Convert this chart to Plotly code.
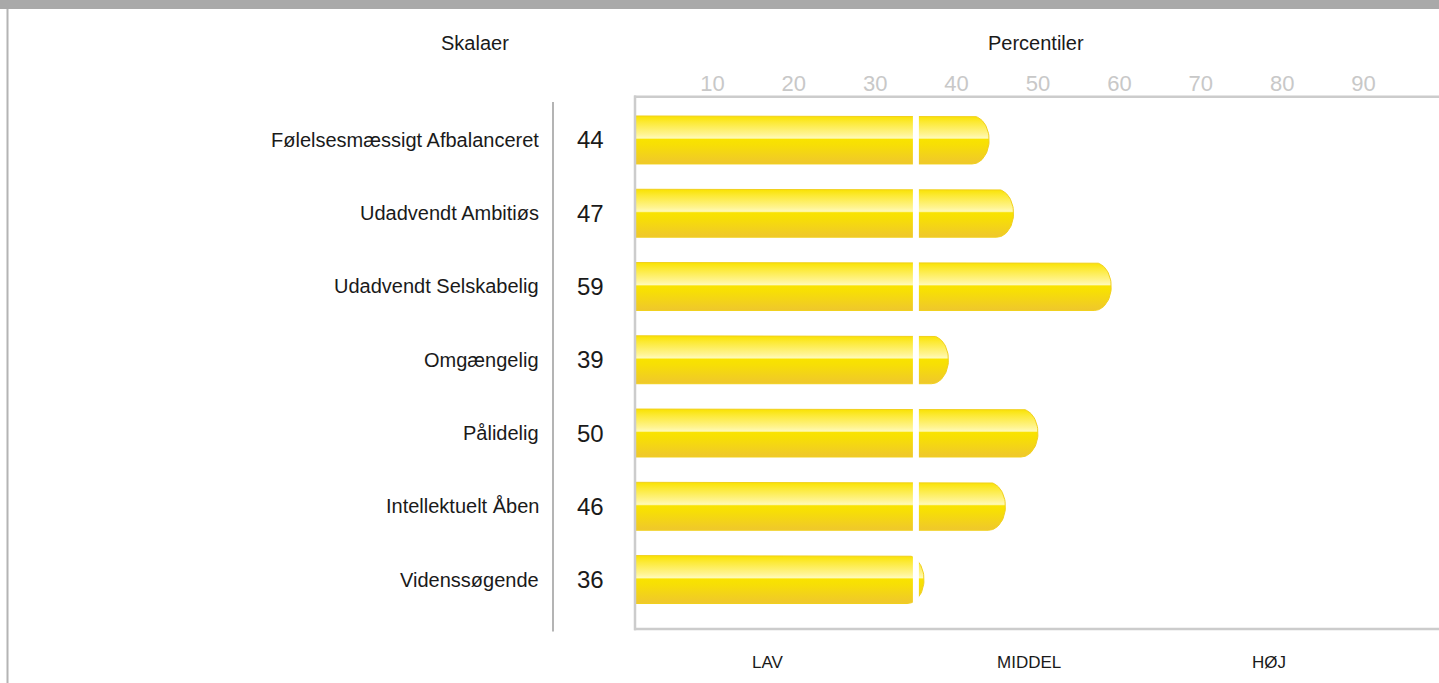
import numpy as np
import plotly.graph_objects as go

# ---- data ----
categories = ["Følelsesmæssigt Afbalanceret", "Udadvendt Ambitiøs", "Udadvendt Selskabelig",
              "Omgængelig", "Pålidelig", "Intellektuelt Åben", "Videnssøgende"]
values = [44, 47, 59, 39, 50, 46, 36]
tick_values = [10, 20, 30, 40, 50, 60, 70, 80, 90]
tick_labels = ["10", "20", "30", "40", "50", "60", "70", "80", "90"]
zone_labels = ["LAV", "MIDDEL", "HØJ"]
split_value = 35

# ---- layout geometry (pixels) ----
W, H = 1439, 683
L, R, T, B = 634, 1439, 96, 629.5
FRAME_TOP = 96.7
XPX = 8.14      # pixels per percentile unit
YPX = 73.33     # pixels per row
x0 = 0.37
x1 = x0 + (R - L) / XPX
y_top = -(140 - T) / YPX
y_bot = (len(categories) - 1) + (B - 580) / YPX

def px(xp):
    return (xp - L) / (R - L)

def py(yp):
    return (B - yp) / (B - T)

FONT = "Liberation Sans, Arial, sans-serif"
half_h = 24 / YPX
rx = 17 / XPX

colorscale = [
    [0.0, "#f9e200"], [0.12, "#fce930"], [0.38, "#fff491"], [0.46, "#fffab6"],
    [0.49, "#f9e300"], [0.6, "#f7df05"], [1.0, "#efc72d"],
]

fig = go.Figure()
for i, v in enumerate(values):
    t = np.linspace(-np.pi / 2, np.pi / 2, 40)
    xs = [0, v - rx] + list(v - rx + rx * np.cos(t)) + [0]
    ys = [i - half_h, i - half_h] + list(i + half_h * np.sin(t)) + [i + half_h]
    fig.add_trace(go.Scatter(
        x=xs, y=ys, mode="lines", fill="toself",
        line=dict(color="#f1d01c", width=1),
        fillgradient=dict(type="vertical", colorscale=colorscale,
                          start=i - half_h, stop=i + half_h),
        hoverinfo="skip", showlegend=False,
    ))

# white separator at the split value
gx, gy = [], []
for i, v in enumerate(values):
    if v > split_value:
        gx += [split_value, split_value, None]
        gy += [i - half_h - 0.02, i + half_h + 0.02, None]
fig.add_trace(go.Scatter(x=gx, y=gy, mode="lines", line=dict(color="white", width=6),
                         hoverinfo="skip", showlegend=False))

ann = []
for i, (c, v) in enumerate(zip(categories, values)):
    ann.append(dict(text=c, x=px(541), y=i, xref="paper", yref="y", xanchor="right",
                    yanchor="middle", showarrow=False, font=dict(size=20, color="#1a1a1a")))
    ann.append(dict(text=str(v), x=px(590), y=i, xref="paper", yref="y", xanchor="center",
                    yanchor="middle", showarrow=False, font=dict(size=24, color="#1a1a1a")))
ann.append(dict(text="Skalaer", x=px(475), y=py(43), xref="paper", yref="paper",
                xanchor="center", yanchor="middle",
                showarrow=False, font=dict(size=20, color="#1a1a1a")))
ann.append(dict(text="Percentiler", x=px(1036), y=py(43), xref="paper", yref="paper",
                xanchor="center", yanchor="middle",
                showarrow=False, font=dict(size=20, color="#1a1a1a")))
for lab, xp in zip(zone_labels, [768, 1029, 1269]):
    ann.append(dict(text=lab, x=px(xp), y=py(663.5), xref="paper", yref="paper",
                    xanchor="center", yanchor="middle",
                    showarrow=False, font=dict(size=17, color="#1a1a1a")))

FRAME = dict(color="#cccccc", width=2.5)
shapes = [
    dict(type="rect", xref="paper", yref="paper", x0=px(-5), x1=px(W + 5), y0=py(9), y1=py(-5),
         fillcolor="#a9a9a9", line=dict(width=0), layer="above"),
    dict(type="line", xref="paper", yref="paper", x0=px(7.5), x1=px(7.5), y0=py(9), y1=py(H + 5),
         line=dict(color="#b4b4b4", width=2)),
    dict(type="line", xref="paper", yref="paper", x0=px(553), x1=px(553), y0=py(102), y1=py(632),
         line=dict(color="#b4b4b4", width=2)),
    # chart frame: top, left, bottom
    dict(type="line", xref="paper", yref="paper", x0=px(634), x1=px(W + 5),
         y0=py(FRAME_TOP), y1=py(FRAME_TOP), line=FRAME, layer="above"),
    dict(type="line", xref="paper", yref="paper", x0=px(635), x1=px(635),
         y0=py(FRAME_TOP - 1.2), y1=py(630.8), line=FRAME, layer="above"),
    dict(type="line", xref="paper", yref="paper", x0=px(634), x1=px(W + 5),
         y0=py(629.5), y1=py(629.5), line=FRAME, layer="above"),
]

fig.update_layout(
    width=W, height=H,
    margin=dict(l=L, r=W - R, t=T, b=H - B, pad=0),
    paper_bgcolor="white", plot_bgcolor="white",
    font=dict(family=FONT),
    annotations=ann, shapes=shapes,
    xaxis=dict(range=[x0, x1], side="top", tickvals=tick_values, ticktext=tick_labels,
               tickfont=dict(size=22, color="#c8c8c8"), showgrid=False, zeroline=False,
               showline=False, ticks="", ticklen=0, fixedrange=True),
    yaxis=dict(range=[y_bot, y_top], showticklabels=False, showgrid=False, zeroline=False,
               showline=False, ticks="", fixedrange=True),
)

fig.write_html("out.html", config={"displayModeBar": False},
               post_script="document.body.style.margin='0';document.body.style.overflow='hidden';")
